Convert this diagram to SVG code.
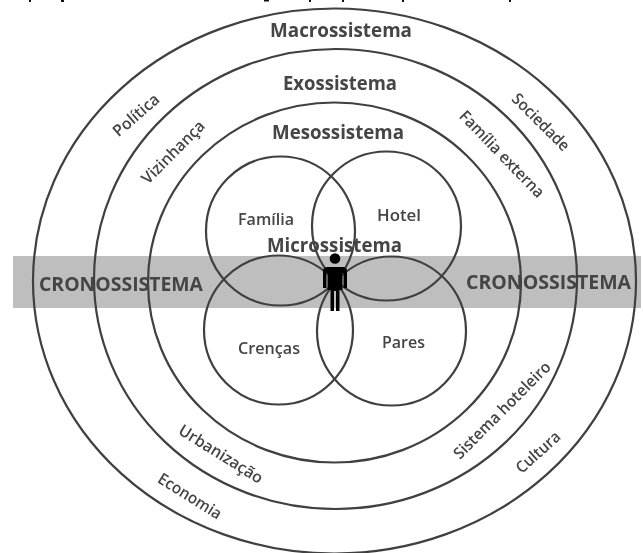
<svg xmlns="http://www.w3.org/2000/svg" width="643" height="553" viewBox="0 0 643 553">
<style>
.ring{fill:none;stroke:#3f3f3f;stroke-width:2.200}
.t{font-family:"Open Sans","Liberation Sans",sans-serif;fill:#444;text-anchor:middle;font-weight:600}
.big{font-size:19.500px;font-weight:700}
.sm{font-size:16px}
.mk{fill:#111}
</style>
<defs><filter id="soft" x="-5%" y="-5%" width="110%" height="110%"><feGaussianBlur stdDeviation="0.45"/></filter></defs>
<rect width="643" height="553" fill="#fff"/>
<g id="cut-off-caption" class="mk">
<rect x="29" y="0" width="2" height="2"/><rect x="61" y="0" width="3" height="2"/><rect x="264" y="0" width="5" height="1.500"/><rect x="309" y="0" width="2" height="2"/><rect x="342" y="0" width="2" height="2"/><rect x="402" y="0" width="2" height="2"/><rect x="509" y="0" width="2" height="2"/>
</g>
<g filter="url(#soft)">
<g id="cronossistema-band"><rect x="13" y="256" width="628" height="52" fill="#bebebe"/></g>
<g id="macrossistema"><ellipse class="ring" cx="334.500" cy="281" rx="301.500" ry="272.500"/>
<text class="t big" x="341" y="37" textLength="142" lengthAdjust="spacingAndGlyphs">Macrossistema</text>
<text class="t sm" transform="translate(136 115) rotate(-41)" dy=".35em" textLength="56" lengthAdjust="spacingAndGlyphs">Política</text>
<text class="t sm" transform="translate(541 122) rotate(45)" dy=".35em" textLength="74" lengthAdjust="spacingAndGlyphs">Sociedade</text>
<text class="t sm" transform="translate(190 496) rotate(32)" dy=".35em" textLength="72" lengthAdjust="spacingAndGlyphs">Economia</text>
<text class="t sm" transform="translate(538 452) rotate(-42)" dy=".35em" textLength="54" lengthAdjust="spacingAndGlyphs">Cultura</text>
</g>
<g id="exossistema"><ellipse class="ring" cx="335.500" cy="279" rx="241.500" ry="230"/>
<text class="t big" x="340" y="90" textLength="114" lengthAdjust="spacingAndGlyphs">Exossistema</text>
<text class="t sm" transform="translate(173 152) rotate(-45)" dy=".35em" textLength="82" lengthAdjust="spacingAndGlyphs">Vizinhança</text>
<text class="t sm" transform="translate(502 154) rotate(46)" dy=".35em" textLength="114" lengthAdjust="spacingAndGlyphs">Família externa</text>
<text class="t sm" transform="translate(221 454) rotate(32)" dy=".35em" textLength="96" lengthAdjust="spacingAndGlyphs">Urbanização</text>
<text class="t sm" transform="translate(502 410) rotate(-45)" dy=".35em" textLength="130" lengthAdjust="spacingAndGlyphs">Sistema hoteleiro</text>
</g>
<g id="mesossistema"><ellipse class="ring" cx="334.500" cy="282.500" rx="186.500" ry="180"/>
<text class="t big" x="338" y="139" textLength="132" lengthAdjust="spacingAndGlyphs">Mesossistema</text>
</g>
<g id="familia"><circle class="ring" cx="280.500" cy="231" r="74.500"/><text class="t sm" x="266" y="225" textLength="56" lengthAdjust="spacingAndGlyphs">Família</text></g>
<g id="hotel"><circle class="ring" cx="386.500" cy="226" r="74.500"/><text class="t sm" x="399" y="221" textLength="44" lengthAdjust="spacingAndGlyphs">Hotel</text></g>
<g id="crencas"><circle class="ring" cx="278.500" cy="330" r="74.500"/><text class="t sm" x="269" y="354" textLength="62" lengthAdjust="spacingAndGlyphs">Crenças</text></g>
<g id="pares"><circle class="ring" cx="391.500" cy="331" r="74.500"/><text class="t sm" x="403.500" y="348" textLength="43" lengthAdjust="spacingAndGlyphs">Pares</text></g>
<g id="cronossistema-labels">
<text class="t big" x="121" y="291" textLength="164" lengthAdjust="spacingAndGlyphs">CRONOSSISTEMA</text>
<text class="t big" x="548.500" y="289" textLength="165" lengthAdjust="spacingAndGlyphs">CRONOSSISTEMA</text>
</g>
<g id="microssistema"><text class="t big" x="334.500" y="252" textLength="135" lengthAdjust="spacingAndGlyphs">Microssistema</text>
<g fill="#050505"><circle cx="335" cy="258.500" r="5.300"/><path d="M328 267H343Q347 267 347 271V288H343.500V273H342.500V290H339.500V311H336V291H334V311H330.500V290H327.500V273H326.500V288H323V271Q323 267 328 267Z"/></g>
</g>
</g>
</svg>
